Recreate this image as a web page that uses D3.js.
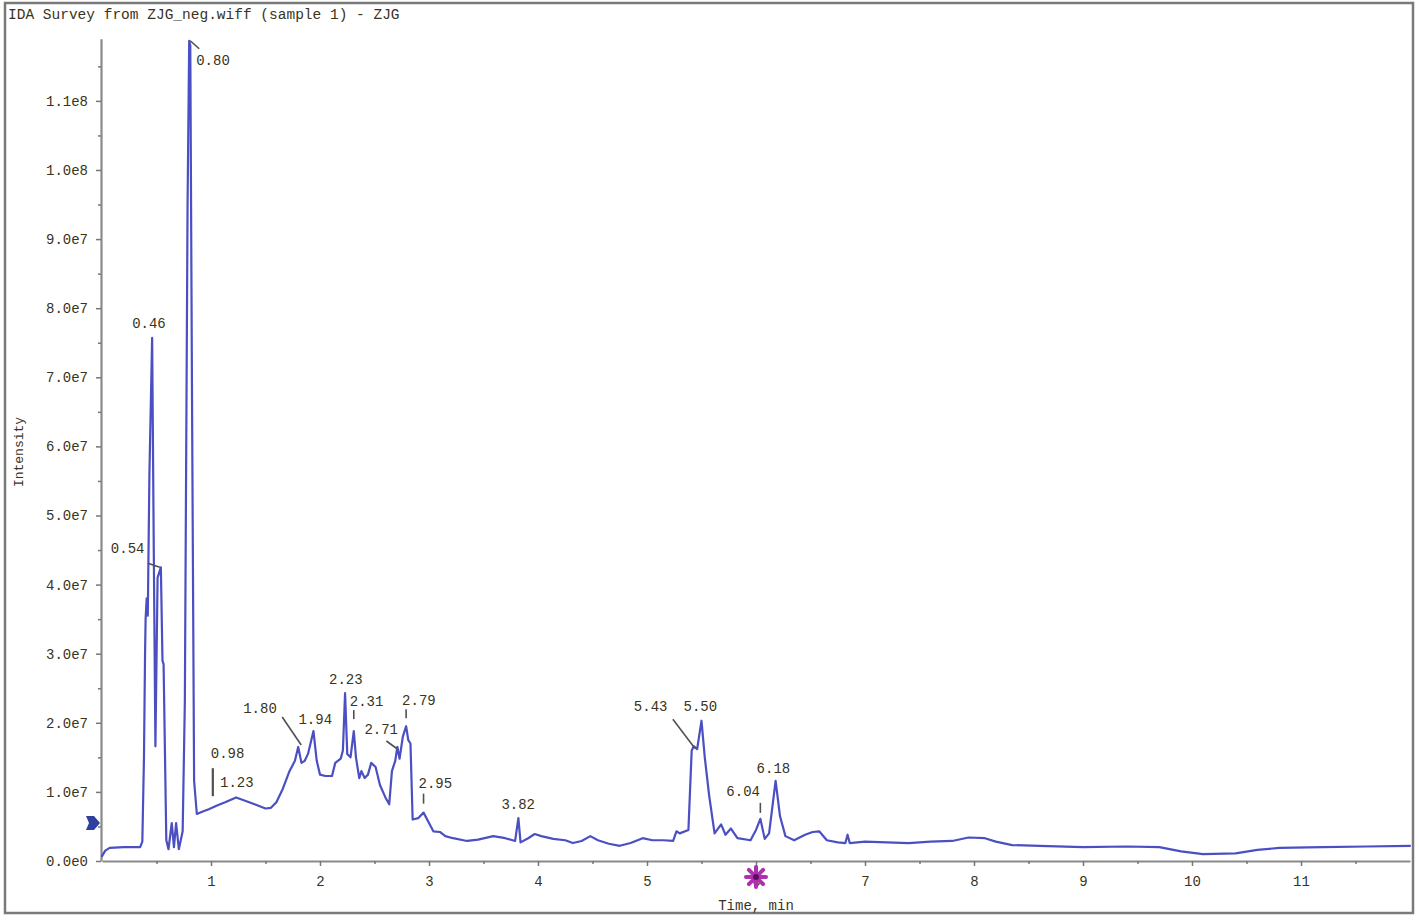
<!DOCTYPE html>
<html><head><meta charset="utf-8">
<script src="https://cdn.jsdelivr.net/npm/d3@7/dist/d3.min.js"></script>
<style>
body{margin:0;background:#fff;}
svg{display:block;}
text{font-family:"Liberation Mono","DejaVu Sans Mono",monospace;fill:#333;}
</style>
</head><body>
<svg id="chart" width="1419" height="921"></svg>
<script>
// ---- data ----
const titleText = "IDA Survey from ZJG_neg.wiff (sample 1) - ZJG";
const xAxisTitle = "Time, min";
const yAxisTitle = "Intensity";

const times = [0.00,0.03,0.07,0.20,0.35,0.37,0.385,0.395,0.40,0.41,0.42,0.435,0.46,0.475,0.49,0.51,0.54,0.555,0.565,0.59,
  0.61,0.64,0.66,0.68,0.705,0.74,0.76,0.785,0.80,0.81,0.826,0.845,0.87,0.93,0.98,1.05,1.13,1.23,1.30,1.40,
  1.50,1.55,1.60,1.66,1.72,1.77,1.80,1.83,1.86,1.89,1.94,1.97,2.00,2.05,2.11,2.14,2.19,2.21,2.23,2.25,
  2.28,2.31,2.33,2.36,2.38,2.41,2.44,2.47,2.51,2.55,2.60,2.635,2.66,2.69,2.71,2.73,2.76,2.79,2.81,2.83,
  2.85,2.90,2.95,3.00,3.04,3.10,3.15,3.22,3.35,3.45,3.59,3.70,3.79,3.82,3.84,3.91,3.97,4.03,4.14,4.25,
  4.32,4.40,4.48,4.55,4.65,4.75,4.85,4.96,5.05,5.15,5.24,5.27,5.30,5.38,5.41,5.43,5.46,5.50,5.53,5.57,
  5.62,5.68,5.72,5.77,5.83,5.95,6.00,6.04,6.08,6.12,6.18,6.22,6.27,6.35,6.45,6.52,6.58,6.65,6.75,6.82,
  6.84,6.86,7.0,7.2,7.4,7.6,7.8,7.95,8.1,8.2,8.35,8.6,9.0,9.4,9.7,9.9,10.1,10.4,10.6,10.8,
  11.2,11.6,12.0];
// intensity in units of 1e7 counts
const intensityE7 = [0.07,0.15,0.19,0.20,0.20,0.28,1.5,3.0,3.5,3.8,3.55,5.6,7.57,4.5,1.66,4.1,4.25,2.9,2.85,0.3,
  0.17,0.55,0.2,0.55,0.17,0.43,2.3,9.5,11.87,11.8,6.66,1.16,0.68,0.72,0.75,0.8,0.85,0.92,0.88,0.82,
  0.76,0.77,0.85,1.05,1.3,1.45,1.65,1.42,1.45,1.55,1.88,1.45,1.25,1.23,1.23,1.42,1.48,1.6,2.43,1.55,
  1.5,1.88,1.5,1.2,1.3,1.2,1.25,1.42,1.36,1.1,0.92,0.82,1.3,1.45,1.65,1.48,1.8,1.95,1.75,1.7,
  0.6,0.62,0.7,0.55,0.43,0.42,0.36,0.33,0.29,0.31,0.36,0.33,0.29,0.62,0.27,0.33,0.39,0.36,0.32,0.3,
  0.26,0.29,0.36,0.3,0.25,0.22,0.26,0.33,0.3,0.3,0.29,0.43,0.4,0.45,1.6,1.66,1.62,2.03,1.5,0.95,
  0.4,0.53,0.38,0.47,0.33,0.3,0.45,0.61,0.32,0.4,1.16,0.65,0.36,0.3,0.38,0.42,0.43,0.3,0.27,0.26,
  0.38,0.26,0.28,0.27,0.26,0.28,0.29,0.34,0.33,0.28,0.23,0.22,0.2,0.21,0.2,0.14,0.1,0.11,0.16,0.19,
  0.2,0.21,0.22];

const xTickValues = [1,2,3,4,5,6,7,8,9,10,11];
const xTickLabels = ["1","2","3","4","5","6","7","8","9","10","11"];
const xMinorTicks = [0.5,1.5,2.5,3.5,4.5,5.5,6.5,7.5,8.5,9.5,10.5,11.5];
const yTickValues = [0,1,2,3,4,5,6,7,8,9,10,11];
const yTickLabels = ["0.0e0","1.0e7","2.0e7","3.0e7","4.0e7","5.0e7","6.0e7","7.0e7","8.0e7","9.0e7","1.0e8","1.1e8"];
const yMinorTicks = [0.5,1.5,2.5,3.5,4.5,5.5,6.5,7.5,8.5,9.5,10.5,11.5];

const peakLabels = ["0.46","0.54","0.80","0.98","1.23","1.80","1.94","2.23","2.31","2.71","2.79","2.95","3.82","5.43","5.50","6.04","6.18"];
const peakTimes  = [0.46,0.54,0.80,0.98,1.23,1.80,1.94,2.23,2.31,2.71,2.79,2.95,3.82,5.43,5.50,6.04,6.18];
const peakIntensityE7 = [7.57,4.25,11.87,0.75,0.92,1.65,1.88,2.43,1.88,1.65,1.95,0.7,0.62,1.66,2.03,0.61,1.16];

const markerIntensityE7 = 0.55;   // left-side threshold marker
const starTime = 6.0;             // marker under the time axis

// ---- layout (pixels, relative to each peak point) ----
const labelLayout = {
  "0.46":{dx:-20,dy:-15},
  "0.54":{dx:-50,dy:-19,lead:[-13,-4,-1,0]},
  "0.80":{dx:7,dy:19,lead:[1,0,10,8]},
  "0.98":{dx:2,dy:-56,lead:[4,-13,4,-41],vert:true},
  "1.23":{dx:-16,dy:-15},
  "1.80":{dx:-55,dy:-39,lead:[-16,-30,3,-2]},
  "1.94":{dx:-15,dy:-12},
  "2.23":{dx:-16,dy:-14},
  "2.31":{dx:-4,dy:-30,lead:[0,-12,0,-21]},
  "2.71":{dx:-33,dy:-18,lead:[-11,-6,0,2]},
  "2.79":{dx:-4,dy:-26,lead:[0,-8,0,-17]},
  "2.95":{dx:-5,dy:-30,lead:[0,-9,0,-19]},
  "3.82":{dx:-17,dy:-14},
  "5.43":{dx:-60,dy:-40,lead:[-21,-27,1,2]},
  "5.50":{dx:-18,dy:-15},
  "6.04":{dx:-34,dy:-28,lead:[0,-6,0,-16]},
  "6.18":{dx:-19,dy:-13}
};

const svg = d3.select("#chart");
const x = d3.scaleLinear().domain([0,12]).range([102,1410]);
const y = d3.scaleLinear().domain([0,11.9]).range([861,38.7]);

// outer frame
svg.append("rect").attr("x",5).attr("y",3).attr("width",1408).attr("height",910)
  .attr("fill","none").attr("stroke","#7a7a7a").attr("stroke-width",2.5);

// title
svg.append("text").attr("x",8).attr("y",14).attr("dy","0.35em")
  .style("font-size","14.5px").style("fill","#3a3320").text(titleText);

// y axis
const gy = svg.append("g").attr("transform","translate(101,0)");
gy.call(d3.axisLeft(y).tickValues(yTickValues).tickFormat((d,i)=>yTickLabels[i]).tickSize(5).tickSizeOuter(0).tickPadding(8));
gy.append("g").call(d3.axisLeft(y).tickValues(yMinorTicks).tickFormat("").tickSize(3).tickSizeOuter(0))
  .select(".domain").remove();
gy.selectAll(".domain").attr("stroke","#8a8a8a").attr("stroke-width",2.2);
gy.selectAll(".tick line").attr("stroke","#777").attr("stroke-width",1.5);
gy.selectAll(".tick text").style("font-size","14px").style("fill","#3a3320").attr("font-family",null);

// x axis
const gx = svg.append("g").attr("transform","translate(0,861)");
gx.call(d3.axisBottom(x).tickValues(xTickValues).tickFormat((d,i)=>xTickLabels[i]).tickSize(5).tickSizeOuter(0));
gx.append("g").call(d3.axisBottom(x).tickValues(xMinorTicks).tickFormat("").tickSize(3).tickSizeOuter(0))
  .select(".domain").remove();
gx.selectAll(".domain").attr("stroke","#8a8a8a").attr("stroke-width",2.2);
gx.selectAll(".tick line").attr("stroke","#777").attr("stroke-width",1.5);
gx.selectAll(".tick text").attr("y",20).attr("dy","0.35em").style("font-size","14px").style("fill","#3a3320").attr("font-family",null);

// axis titles
svg.append("text").attr("x",(x(0)+x(12))/2).attr("y",905).attr("dy","0.35em")
  .attr("text-anchor","middle").style("font-size","14px").style("fill","#3a3320").text(xAxisTitle);
svg.append("text").attr("transform","translate(18,452) rotate(-90)").attr("dy","0.35em")
  .attr("text-anchor","middle").style("font-size","13px").style("fill","#3a3320").text(yAxisTitle);

// trace
const pts = times.map((t,i)=>[t,intensityE7[i]]);
svg.append("path").datum(pts)
  .attr("fill","none").attr("stroke","#4b4fc2").attr("stroke-width",2.2)
  .attr("stroke-linejoin","round").attr("stroke-linecap","round")
  .attr("d",d3.line().x(d=>x(d[0])).y(d=>y(d[1])));

// peak labels
const gl = svg.append("g");
peakLabels.forEach((lab,i)=>{
  const px = x(peakTimes[i]), py = y(peakIntensityE7[i]);
  const L = labelLayout[lab];
  if (L.lead) {
    gl.append("line").attr("x1",px+L.lead[0]).attr("y1",py+L.lead[1])
      .attr("x2",px+L.lead[2]).attr("y2",py+L.lead[3])
      .attr("stroke","#505050").attr("stroke-width",L.vert?2.2:1.6);
  }
  gl.append("text").attr("x",px+L.dx).attr("y",py+L.dy).attr("dy","0.35em")
    .style("font-size","14px").style("fill","#3a3320").text(lab);
});

// left marker arrow
const my = y(markerIntensityE7);
svg.append("path")
  .attr("d",`M86,${my-7} L94,${my-7} L100,${my} L94,${my+7} L86,${my+7} L89,${my} Z`)
  .attr("fill","#2d3fa0");

// star marker under axis
const sx = x(starTime), sy = 877;
const gs = svg.append("g");
[0,45,90,135].forEach(a=>{
  const r = a*Math.PI/180;
  gs.append("line").attr("x1",sx-10*Math.cos(r)).attr("y1",sy-10*Math.sin(r))
    .attr("x2",sx+10*Math.cos(r)).attr("y2",sy+10*Math.sin(r))
    .attr("stroke","#b02fb0").attr("stroke-width",4).attr("stroke-linecap","round");
});
gs.append("circle").attr("cx",sx).attr("cy",sy).attr("r",3).attr("fill","#5a1060");
</script>
</body></html>
